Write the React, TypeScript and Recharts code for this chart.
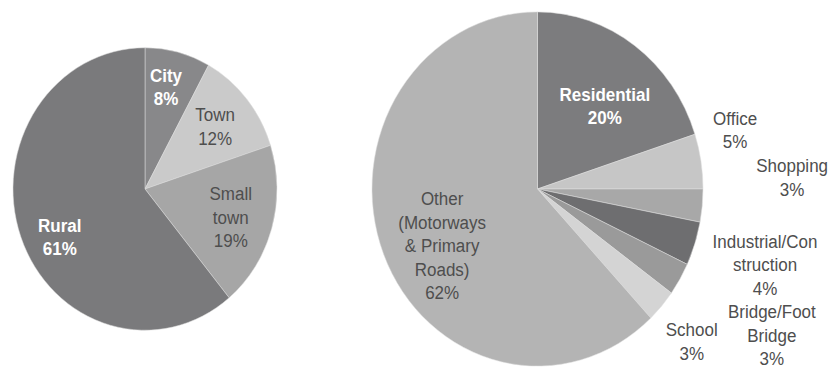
import { PieChart, Pie, Cell } from 'recharts';

// left pie: area type
const areaNames = ['City', 'Town', 'Small\ntown', 'Rural'];
const areaValues = [8, 12, 19, 61];
const areaColors = ['#88888a', '#cacaca', '#a6a6a6', '#7a7a7c'];

// right pie: location type
const siteNames = [
  'Residential',
  'Office',
  'Shopping',
  'Industrial/Con\nstruction',
  'Bridge/Foot\nBridge',
  'School',
  'Other\n(Motorways\n& Primary\nRoads)',
];
const siteValues = [20, 5, 3, 4, 3, 3, 62];
const siteColors = ['#7c7c7e', '#c6c6c6', '#a8a8a8', '#6e6e70', '#9a9a9a', '#d4d4d4', '#b4b4b4'];

// label placement: radius factor and angle shift from the slice middle
const areaLabelPos = [
  { r: 0.74, shift: 2, light: true },
  { r: 0.69, shift: 0, light: false },
  { r: 0.68, shift: -1, light: false },
  { r: 0.73, shift: 8, light: true },
];
const siteLabelPos = [
  { r: 0.62, shift: -5, light: true },
  { r: 1.24, shift: 6.6, light: false },
  { r: 1.54, shift: 7.8, light: false },
  { r: 1.44, shift: 0.7, light: false },
  { r: 1.64, shift: 0.3, light: false },
  { r: 1.27, shift: -1.4, light: false },
  { r: 0.66, shift: 7.6, light: false },
];

const areaData = areaNames.map((name, i) => ({ name, value: areaValues[i] }));
const siteData = siteNames.map((name, i) => ({ name, value: siteValues[i] }));

const RAD = Math.PI / 180;
const LINE_H = 22;

function makeLabel(pos: { r: number; shift: number; light: boolean }[]) {
  return (props: any) => {
    const { cx, cy, midAngle, outerRadius, index, payload, value } = props;
    const p = pos[index];
    const ang = (midAngle + p.shift) * RAD;
    const x = cx + outerRadius * p.r * Math.cos(-ang);
    const y = cy + outerRadius * p.r * Math.sin(-ang);
    const lines = [...String(payload.name).split('\n'), `${value}%`];
    const top = y - ((lines.length - 1) * LINE_H) / 2 + 6;
    return (
      <text
        key={`lbl-${index}`}
        x={x}
        y={top}
        textAnchor="middle"
        fontFamily="'Liberation Sans', Arial, sans-serif"
        fontSize={17}
        fontWeight={p.light ? 700 : 400}
        fill={p.light ? '#ffffff' : '#4e4e4e'}
      >
        {lines.map((l, k) => (
          <tspan key={k} x={x} dy={k === 0 ? 0 : LINE_H}>
            {l}
          </tspan>
        ))}
      </text>
    );
  };
}

export default function App() {
  return (
    <div
      style={{
        position: 'absolute',
        left: 0,
        top: 0,
        width: 837,
        height: 348,
        background: '#ffffff',
        transform: 'scaleY(1.07)',
        transformOrigin: '0 0',
      }}
    >
      <PieChart width={837} height={348} margin={{ top: 0, right: 0, bottom: 0, left: 0 }}>
        <Pie
          data={areaData}
          dataKey="value"
          nameKey="name"
          cx={145}
          cy={176.6}
          outerRadius={132}
          startAngle={90}
          endAngle={-270}
          stroke="#dedede"
          strokeWidth={0.5}
          labelLine={false}
          label={makeLabel(areaLabelPos)}
          isAnimationActive={false}
        >
          {areaData.map((d, i) => (
            <Cell key={d.name} fill={areaColors[i]} />
          ))}
        </Pie>
        <Pie
          data={siteData}
          dataKey="value"
          nameKey="name"
          cx={537.5}
          cy={176.6}
          outerRadius={165.5}
          startAngle={90}
          endAngle={-270}
          stroke="#dedede"
          strokeWidth={0.5}
          labelLine={false}
          label={makeLabel(siteLabelPos)}
          isAnimationActive={false}
        >
          {siteData.map((d, i) => (
            <Cell key={d.name} fill={siteColors[i]} />
          ))}
        </Pie>
      </PieChart>
    </div>
  );
}
